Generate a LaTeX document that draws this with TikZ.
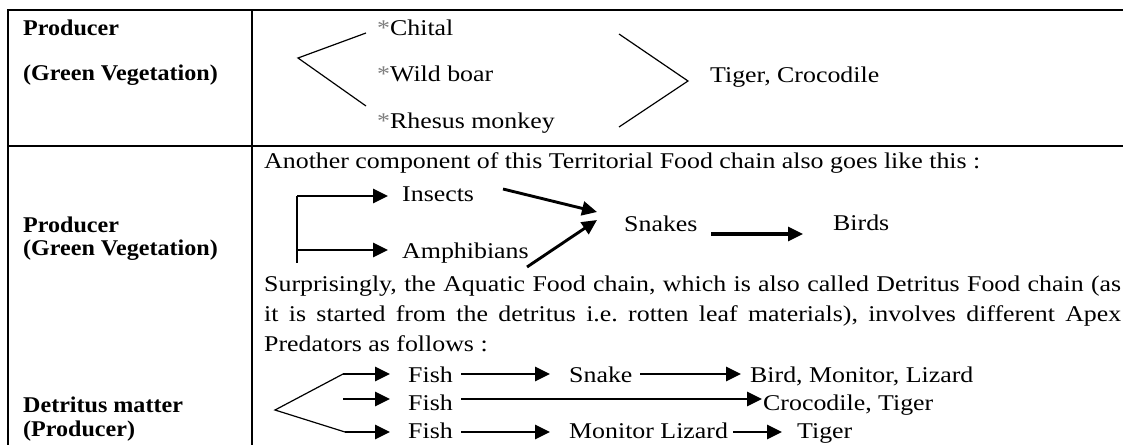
\documentclass[tikz,border=0pt]{standalone}
\usepackage{fontspec}
\setmainfont{Liberation Serif}[FakeStretch=1.15]
\newfontfamily\headfont{Liberation Serif}[FakeStretch=1.07]
\usetikzlibrary{arrows.meta}
\frenchspacing
\begin{document}
\begin{tikzpicture}[x=1pt,y=-1pt,
  txt/.style={anchor=base west, inner sep=0pt, font=\fontsize{22.5}{27}\selectfont},
  head/.style={anchor=base west, inner sep=0pt, font=\fontsize{22.5}{27}\selectfont\headfont\bfseries},
  rulethick/.style={line width=2.2pt},
  rulethin/.style={line width=1.3pt},
  thinline/.style={line width=1.2pt},
  arr/.style={line width=2.9pt, -{Triangle[length=15pt,width=14pt]}}
]
\useasboundingbox (0,0) rectangle (1123,445);
\fill[white] (0,0) rectangle (1123,445);

% ---------- table rules ----------
\draw[rulethick] (7,10) -- (1123,10);
\draw[rulethin] (8,146) -- (1123,146);
\draw[rulethin] (8,9) -- (8,445);
\draw[rulethin] (252,9) -- (252,445);

% ---------- row 1 ----------
\node[head] (r1a) at (23,35) {Producer};
\node[head] (r1b) at (23,80) {(Green Vegetation)};

\node[txt] (chital) at (377,35) {\textcolor{gray}{*}Chital};
\node[txt] (boar) at (377,81) {\textcolor{gray}{*}Wild boar};
\node[txt] (rhesus) at (377,128) {\textcolor{gray}{*}Rhesus monkey};
\node[txt] (tigcroc) at (710,82) {Tiger, Crocodile};

\coordinate (la) at (298,58);
\coordinate (lu) at (366,33);
\coordinate (ld) at (366,106);
\draw[thinline] (lu) -- (la) -- (ld);
\coordinate (ru) at (619,34);
\coordinate (ra) at (688,81);
\coordinate (rd) at (619,127);
\draw[thinline] (ru) -- (ra) -- (rd);

% ---------- row 2, left ----------
\node[head] (r2a) at (23,232) {Producer};
\node[head] (r2b) at (23,255) {(Green Vegetation)};
\node[head] (r2c) at (23,412) {Detritus matter};
\node[head] (r2d) at (23,436) {(Producer)};

% ---------- row 2, right: terrestrial chain ----------
\node[txt] (another) at (264,168) {Another component of this Territorial Food chain also goes like this :};
\node[txt] (insects) at (402,201) {Insects};
\node[txt] (amph) at (402,258) {Amphibians};
\node[txt] (snakes) at (624,231) {Snakes};
\node[txt] (birds) at (833,230) {Birds};

\coordinate (bt) at (297,196);
\coordinate (bb) at (297,263);
\coordinate (bm) at (297,250);
\coordinate (ti) at (388,196);
\coordinate (ta) at (388,250);
\draw[line width=1.6pt] (bt) -- (bb);
\draw[arr] (bt) -- (ti);
\draw[arr] (bm) -- (ta);

\coordinate (is0) at (503,189);
\coordinate (is1) at (597,212);
\coordinate (as0) at (527,267);
\coordinate (as1) at (597,220);
\draw[arr] (is0) -- (is1);
\draw[arr] (as0) -- (as1);

\coordinate (sb0) at (711,234);
\coordinate (sb1) at (803,234);
\draw[arr, line width=3.2pt] (sb0) -- (sb1);

% ---------- paragraph ----------
\node[txt] (p1) at (264,291) {\makebox[857pt][s]{Surprisingly, the Aquatic Food chain, which is also called Detritus Food chain (as}};
\node[txt] (p2) at (264,321) {\makebox[857pt][s]{it is started from the detritus i.e. rotten leaf materials), involves different Apex}};
\node[txt] (p3) at (264,351) {Predators as follows :};

% ---------- aquatic chain ----------
\node[txt] (f1) at (408,382) {Fish};
\node[txt] (s1) at (569,382) {Snake};
\node[txt] (b1) at (750,382) {Bird, Monitor, Lizard};
\node[txt] (f2) at (408,410) {Fish};
\node[txt] (c2) at (763,410) {Crocodile, Tiger};
\node[txt] (f3) at (408,438) {Fish};
\node[txt] (m3) at (569,438) {Monitor Lizard};
\node[txt] (t3) at (797,438) {Tiger};

\coordinate (da) at (275,410);
\coordinate (du) at (343,374);
\coordinate (dm) at (343,399);
\coordinate (dd) at (345,432);
\coordinate (du1) at (390,374);
\coordinate (dm1) at (390,399);
\coordinate (dd1) at (390,432);
\draw[thinline] (du) -- (da) -- (dd);
\draw[arr] (du) -- (du1);
\draw[arr] (dm) -- (dm1);
\draw[arr] (dd) -- (dd1);

\coordinate (a10) at (461,374);
\coordinate (a11) at (550,374);
\coordinate (a20) at (640,374);
\coordinate (a21) at (741,374);
\coordinate (c20) at (461,399);
\coordinate (c21) at (762,399);
\coordinate (m30) at (461,432);
\coordinate (m31) at (550,432);
\coordinate (m40) at (733,432);
\coordinate (m41) at (782,432);
\draw[arr] (a10) -- (a11);
\draw[arr] (a20) -- (a21);
\draw[arr] (c20) -- (c21);
\draw[arr] (m30) -- (m31);
\draw[arr] (m40) -- (m41);
\end{tikzpicture}
\end{document}
